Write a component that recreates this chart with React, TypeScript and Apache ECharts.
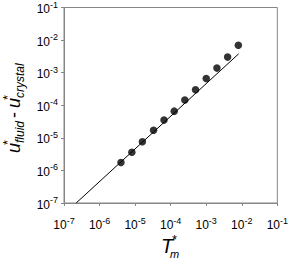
import React, { useEffect, useRef } from "react";
import * as echarts from "echarts";

const tmX = [4.0e-6, 8.1e-6, 1.6e-5, 3.3e-5, 6.5e-5, 1.26e-4, 2.5e-4, 5.0e-4, 1.0e-3, 2.0e-3, 4.0e-3, 8.0e-3];
const duY = [1.74e-6, 3.6e-6, 7.6e-6, 1.7e-5, 3.5e-5, 6.6e-5, 1.45e-4, 3.0e-4, 6.6e-4, 1.38e-3, 3.0e-3, 6.9e-3];
const fitX = [2.2e-7, 8.2e-3];
const fitY = [1.0e-7, 3.8e-3];
const axisMin = 1e-7;
const axisMax = 1e-1;

const FONT = "'Liberation Sans', Arial, sans-serif";
const GREY = "#868686";

function expLabel(v: number) {
  const e = Math.round(Math.log10(v));
  return `{b|10}{s|${e}}`;
}

const rich = {
  b: { fontSize: 12, fontFamily: FONT, color: "#000", lineHeight: 15, verticalAlign: "bottom" },
  s: { fontSize: 9, fontFamily: FONT, color: "#000", lineHeight: 9, verticalAlign: "top" },
};

function txt(text: string, x: number, y: number, font: string, align = "left") {
  return {
    type: "text",
    x,
    y,
    style: {
      text,
      font,
      fill: "#000",
      align,
      textAlign: align,
      verticalAlign: "middle",
      textVerticalAlign: "middle",
    },
  };
}

export default function App() {
  const ref = useRef<HTMLDivElement>(null);
  useEffect(() => {
    if (!ref.current) return;
    const chart = echarts.init(ref.current, null, { renderer: "svg" });
    const main = `italic 18px ${FONT}`;
    const sub = `italic 12px ${FONT}`;
    const star = `13px ${FONT}`;
    chart.setOption({
      animation: false,
      backgroundColor: "#fff",
      grid: { left: 64, top: 5, width: 217, height: 198, show: true, borderColor: GREY, borderWidth: 1, backgroundColor: "transparent" },
      xAxis: {
        type: "log",
        logBase: 10,
        min: axisMin,
        max: axisMax,
        axisLine: { show: true, lineStyle: { color: GREY, width: 1 } },
        axisTick: { show: true, inside: false, length: 3, lineStyle: { color: GREY } },
        splitLine: { show: false },
        minorTick: { show: false },
        axisLabel: { formatter: expLabel, rich, margin: 13, showMinLabel: true, showMaxLabel: true },
      },
      yAxis: {
        type: "log",
        logBase: 10,
        min: axisMin,
        max: axisMax,
        axisLine: { show: true, lineStyle: { color: GREY, width: 1 } },
        axisTick: { show: true, inside: false, length: 3, lineStyle: { color: GREY } },
        splitLine: { show: false },
        axisLabel: { formatter: expLabel, rich, margin: 6, showMinLabel: true, showMaxLabel: true },
      },
      series: [
        {
          type: "line",
          data: fitX.map((x, i) => [x, fitY[i]]),
          showSymbol: false,
          lineStyle: { color: "#000", width: 1 },
          clip: true,
        },
        {
          type: "scatter",
          data: tmX.map((x, i) => [x, duY[i]]),
          symbol: "circle",
          symbolSize: 7.5,
          itemStyle: { color: "#000" },
        },
      ],
      graphic: [
        {
          type: "group",
          x: 161,
          y: 246,
          children: [
            txt("T", 0, 0, `italic 20px ${FONT}`),
            txt("*", 11, -7, star),
            txt("m", 9, 8, `italic 11px ${FONT}`),
          ],
        },
        {
          type: "group",
          x: 14,
          y: 153,
          rotation: Math.PI / 2,
          children: [
            txt("u", 0, 0, main),
            txt("*", 8, -7, star),
            txt("fluid", 10, 6, sub),
            txt("-", 38, 0, `18px ${FONT}`, "center"),
            txt("u", 45, 0, main),
            txt("*", 53, -7, star),
            txt("crystal", 55, 6, sub),
          ],
        },
      ],
    });
    return () => chart.dispose();
  }, []);
  return <div ref={ref} style={{ position: "fixed", left: 0, top: 0, width: 291, height: 259 }} />;
}
